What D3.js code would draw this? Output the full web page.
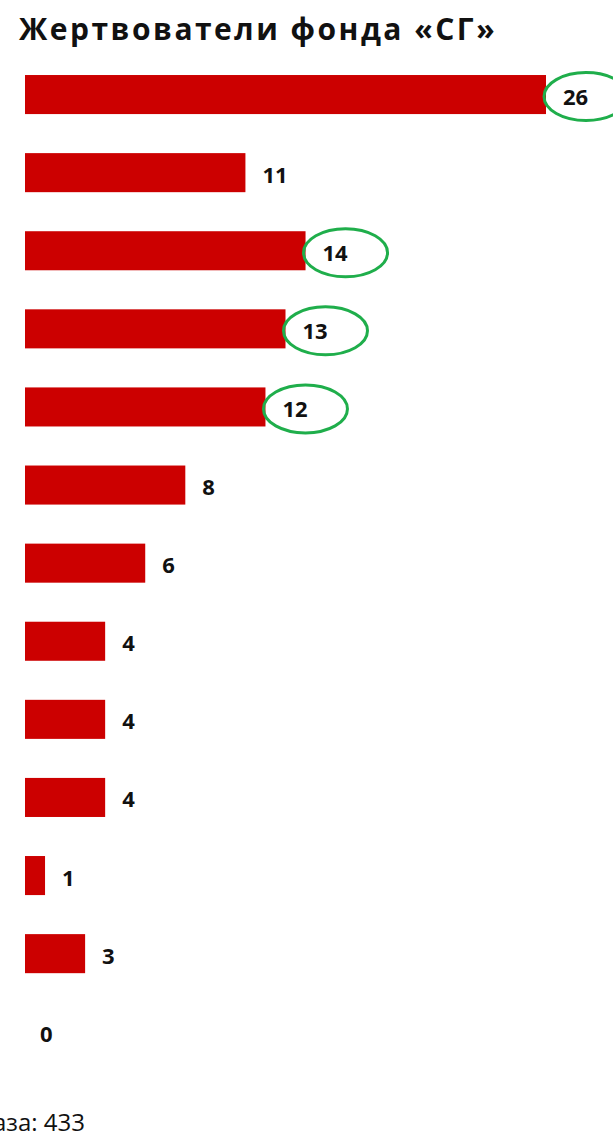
<!DOCTYPE html>
<html>
<head>
<meta charset="utf-8">
<script src="https://cdn.jsdelivr.net/npm/d3@7/dist/d3.min.js"></script>
<style>
  body { margin: 0; background: #fff; overflow: hidden; }
  svg { display: block; }
  .title { font-family: "Open Sans", sans-serif; font-weight: 700; font-size: 30px; letter-spacing: 2.5px; fill: #111; }
  .val { font-family: "Open Sans", sans-serif; font-weight: 700; font-size: 22px; fill: #111; }
  .base { font-family: "Open Sans", sans-serif; font-size: 24px; fill: #111; }
</style>
</head>
<body>
<svg id="chart" width="613" height="1133"></svg>
<script>
// rows have no visible names in the picture, so just number them
var rows = ["r1", "r2", "r3", "r4", "r5", "r6", "r7", "r8", "r9", "r10", "r11", "r12", "r13"];
var values = [26, 11, 14, 13, 12, 8, 6, 4, 4, 4, 1, 3, 0];
// rows whose value got circled in green
var circled = ["r1", "r3", "r4", "r5"];

var titleText = "Жертвователи фонда «СГ»";
var baseText = "База: 433";

var svg = d3.select("svg#chart");

var x = d3.scaleLinear().domain([0, 26]).range([25, 546]);
var y = d3.scaleBand().domain(rows).range([55.5, 1070.8]).paddingInner(0.5).paddingOuter(0.25);

var data = rows.map(function (r, i) { return { id: r, v: values[i] }; });

svg.append("text").attr("class", "title").attr("x", 19).attr("y", 40).text(titleText);

svg.append("g").selectAll("rect")
    .data(data.filter(function (d) { return d.v > 0; }))
    .enter().append("rect")
    .attr("x", x(0))
    .attr("y", function (d) { return y(d.id); })
    .attr("width", function (d) { return x(d.v) - x(0); })
    .attr("height", y.bandwidth())
    .attr("fill", "#cc0000");

svg.append("g").selectAll("text")
    .data(data)
    .enter().append("text")
    .attr("class", "val")
    .attr("x", function (d) { return x(d.v) + (d.v > 0 ? 17 : 15); })
    .attr("y", function (d) { return y(d.id) + y.bandwidth() / 2 + 10; })
    .text(function (d) { return d.v; });

svg.append("g").selectAll("ellipse")
    .data(data.filter(function (d) { return circled.indexOf(d.id) >= 0; }))
    .enter().append("ellipse")
    .attr("cx", function (d) { return x(d.v) + 40; })
    .attr("cy", function (d) { return y(d.id) + y.bandwidth() / 2 + 2; })
    .attr("rx", 42)
    .attr("ry", 24)
    .attr("fill", "none")
    .attr("stroke", "#1fae4b")
    .attr("stroke-width", 3);

// the base note is clipped by the left edge in the original too
svg.append("text").attr("class", "base").attr("x", 85).attr("y", 1131)
    .attr("text-anchor", "end").text(baseText);
</script>
</body>
</html>
